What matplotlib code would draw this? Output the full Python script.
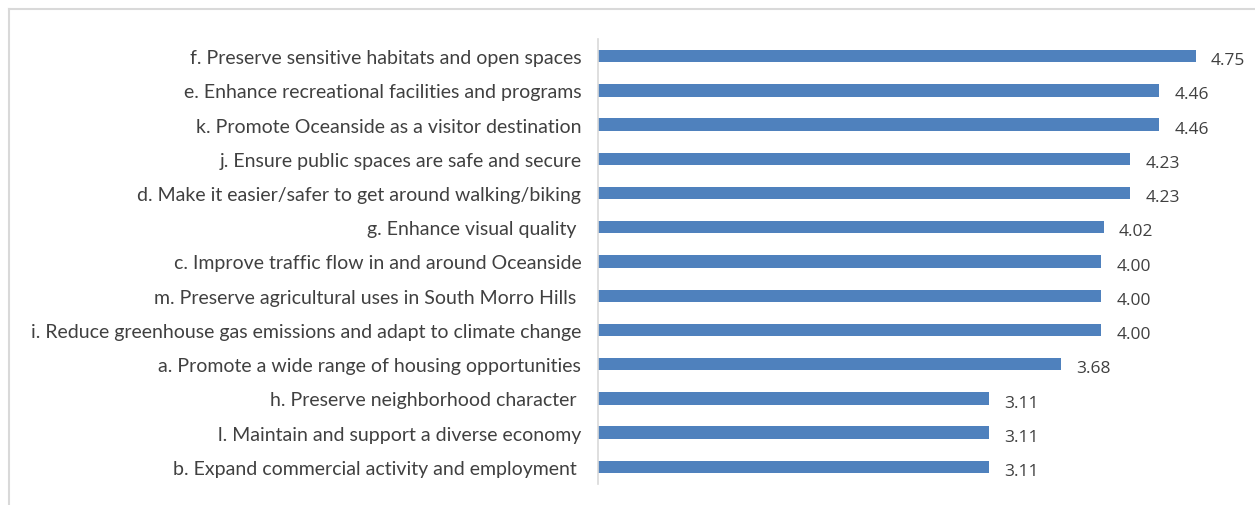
import matplotlib
matplotlib.use('Agg')
import matplotlib.pyplot as plt
from matplotlib.lines import Line2D

labels = [
    'f. Preserve sensitive habitats and open spaces',
    'e. Enhance recreational facilities and programs',
    'k. Promote Oceanside as a visitor destination',
    'j. Ensure public spaces are safe and secure',
    'd. Make it easier/safer to get around walking/biking',
    'g. Enhance visual quality ',
    'c. Improve traffic flow in and around Oceanside',
    'm. Preserve agricultural uses in South Morro Hills ',
    'i. Reduce greenhouse gas emissions and adapt to climate change',
    'a. Promote a wide range of housing opportunities',
    'h. Preserve neighborhood character ',
    'l. Maintain and support a diverse economy',
    'b. Expand commercial activity and employment ',
]
scores = [4.75, 4.46, 4.46, 4.23, 4.23, 4.02, 4.00, 4.00, 4.00, 3.68, 3.11, 3.11, 3.11]

W, H = 1255, 506
fig = plt.figure(figsize=(W / 100, H / 100), dpi=100)
# axes: x from 598 to 1227 px, y from 40 to 485 px
ax = fig.add_axes([598 / W, 1 - 485 / H, (1227 - 598) / W, (485 - 40) / H])

ypos = list(range(len(labels)))
ax.barh(ypos, scores, height=0.36, color='#4f81bd')
ax.set_xlim(0, 5)
ax.set_ylim(len(labels) - 0.5, -0.5)
ax.set_yticks(ypos)
ax.set_yticklabels(labels, fontsize=14, color='#404040', family='Lato')
ax.tick_params(axis='y', length=0, pad=12)
ax.set_xticks([])
for s in ['top', 'right', 'bottom']:
    ax.spines[s].set_visible(False)
ax.spines['left'].set_color('#d9d9d9')
ax.spines['left'].set_linewidth(1.2)

for y, v in zip(ypos, scores):
    ax.text(v + 0.12, y + 0.12, f'{v:.2f}', va='center', ha='left',
            fontsize=12.5, color='#404040', family='Open Sans')

# chart area border (top and left visible)
fig.add_artist(Line2D([8.5 / W, 8.5 / W], [0, 1 - 10 / H], color='#d9d9d9', lw=1.5))
fig.add_artist(Line2D([8.5 / W, 1], [1 - 10 / H, 1 - 10 / H], color='#d9d9d9', lw=1.5))

fig.savefig('out.png', dpi=100)
